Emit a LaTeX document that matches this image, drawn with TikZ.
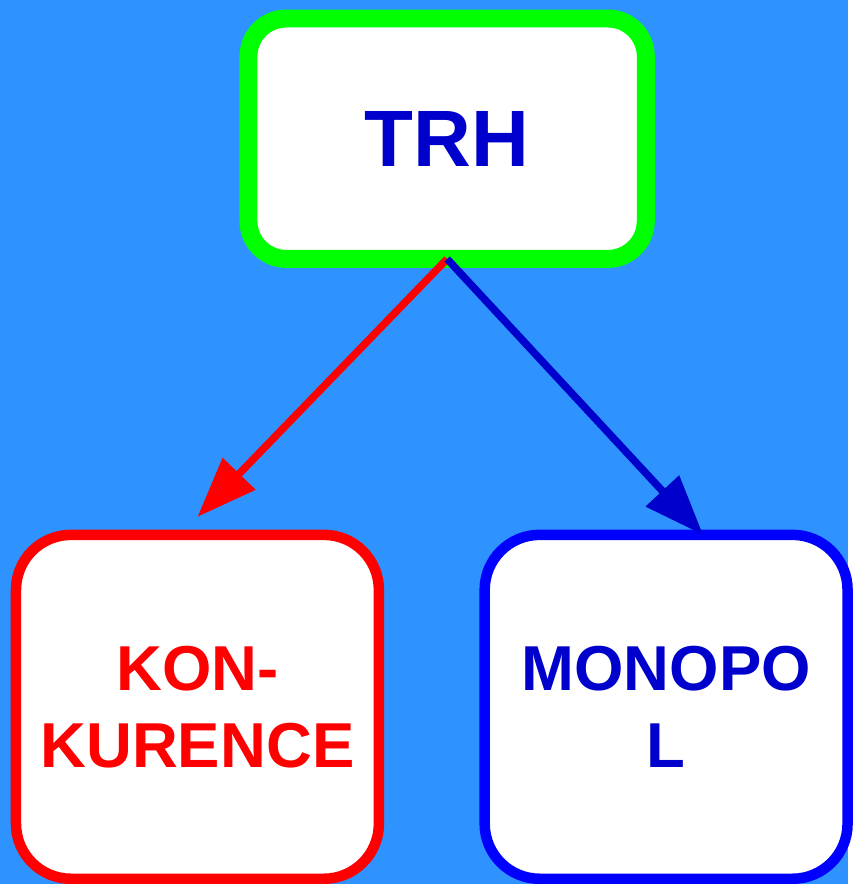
\documentclass[tikz,border=0pt]{standalone}
\usepackage{fontspec}
\setmainfont{Liberation Sans}
\usepackage{tikz}
\usetikzlibrary{arrows.meta}

\definecolor{bgblue}{RGB}{46,147,255}
\definecolor{textblue}{RGB}{0,0,204}

\begin{document}
\begin{tikzpicture}[x=1pt, y=1pt, box/.style = {shape=rectangle, draw, fill=white, outer sep=0pt, align=center, font=\bfseries\fontsize{63.5}{77}\selectfont, minimum width=363pt, minimum height=344pt, line width=10.5pt, rounded corners=55pt}, link/.style = {line width=7.5pt, -{Triangle[length=60pt,width=44pt]}}]
\fill[bgblue] (0,0) rectangle (848,-884);
\node[box, draw=green, text=textblue, minimum width=397.5pt, minimum height=240.5pt, line width=18pt, rounded corners=38pt, font=\bfseries\fontsize{80}{90}\selectfont] (trh) at (447.25,-138.75) {TRH};
\node[box, draw=red, text=red] (kon) at (197.5,-707) {KON-\\KURENCE};
\node[box, draw=blue, text=textblue] (mono) at (666.3,-707) {MONOPO\\L};
\draw[link, red] (trh.south) -- ([yshift=18pt]kon.north);
\draw[link, textblue] (trh.south) -- ([xshift=37pt]mono.north);
\end{tikzpicture}
\end{document}
